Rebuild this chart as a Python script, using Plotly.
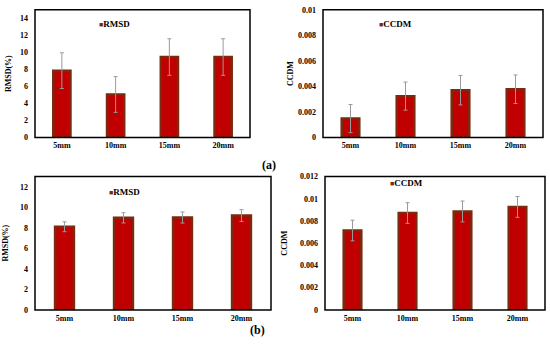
import plotly.graph_objects as go

categories = ["5mm", "10mm", "15mm", "20mm"]

# (a) panel
rmsd_a = [7.85, 5.05, 9.45, 9.45]
rmsd_a_err = [2.1, 2.1, 2.15, 2.15]
ccdm_a = [0.00148, 0.00324, 0.00370, 0.00378]
ccdm_a_err = [0.0011, 0.0011, 0.00115, 0.00112]

# (b) panel
rmsd_b = [8.1, 8.97, 9.0, 9.19]
rmsd_b_err = [0.48, 0.5, 0.54, 0.57]
ccdm_b = [0.00714, 0.00871, 0.00885, 0.00926]
ccdm_b_err = [0.00093, 0.00093, 0.00094, 0.00094]

FONT = "Liberation Serif"
BAR_FILL = "#C00000"
BAR_LINE = "#7A2A0E"
ERR_COLOR = "#9A9A9A"

W, H = 550, 350

def px_x(a, b):
    return [a / W, b / W]

def px_y(top, bottom):
    return [1 - bottom / H, 1 - top / H]

fig = go.Figure()

panels = [
    dict(name="RMSD", y=rmsd_a, err=rmsd_a_err, xd=px_x(35, 250), yd=px_y(6, 137),
         rng=[0, 15], tv=[0, 2, 4, 6, 8, 10, 12, 14], tt=None, title="RMSD(%)",
         leg=(97, 21), so=7),
    dict(name="CCDM", y=ccdm_a, err=ccdm_a_err, xd=px_x(323, 543), yd=px_y(6, 137),
         rng=[0, 0.01], tv=[0, 0.002, 0.004, 0.006, 0.008, 0.01],
         tt=["0", "0.002", "0.004", "0.006", "0.008", "0.01"], title="CCDM",
         leg=(377, 21), so=3),
    dict(name="RMSD", y=rmsd_b, err=rmsd_b_err, xd=px_x(35, 271), yd=px_y(177, 314),
         rng=[0, 13], tv=[0, 2, 4, 6, 8, 10, 12], tt=None, title="RMSD(%)",
         leg=(107, 193), so=10),
    dict(name="CCDM", y=ccdm_b, err=ccdm_b_err, xd=px_x(325, 545), yd=px_y(177, 314),
         rng=[0, 0.012], tv=[0, 0.002, 0.004, 0.006, 0.008, 0.01, 0.012],
         tt=["0", "0.002", "0.004", "0.006", "0.008", "0.01", "0.012"], title="CCDM",
         leg=(388, 184), so=11),
]

tickfont = dict(family=FONT, size=8, color="black", weight="bold")
layout = {}
shapes = []
annotations = []
for i, p in enumerate(panels):
    n = "" if i == 0 else str(i + 1)
    fig.add_trace(go.Bar(
        x=categories, y=p["y"], name=p["name"], showlegend=False,
        xaxis="x" + n, yaxis="y" + n,
        marker=dict(color=BAR_FILL, line=dict(color=BAR_LINE, width=2.5)),
        error_y=dict(type="data", array=p["err"], visible=True,
                     color=ERR_COLOR, thickness=1, width=2),
        width=0.32,
    ))
    layout["xaxis" + n] = dict(
        domain=p["xd"], anchor="y" + n, showline=False,
        ticks="", showgrid=False, tickfont=tickfont, ticklabelstandoff=2,
    )
    yax = dict(
        domain=p["yd"], anchor="x" + n, range=p["rng"], showline=False,
        ticks="", showgrid=False, zeroline=False,
        tickvals=p["tv"], tickfont=tickfont, ticklabelstandoff=6,
        title=dict(text="<b>" + p["title"] + "</b>",
                   font=dict(family=FONT, size=8, color="black"), standoff=p["so"]),
    )
    if p["tt"] is not None:
        yax["ticktext"] = p["tt"]
    layout["yaxis" + n] = yax
    shapes.append(dict(type="rect", xref="x" + n + " domain", yref="y" + n + " domain",
                       x0=0, x1=1, y0=0, y1=1, line=dict(color="black", width=1.5),
                       layer="above"))
    annotations.append(dict(
        text="<span style='color:%s;font-size:7px'>■</span><b>%s</b>" % (BAR_LINE, p["name"]),
        x=p["leg"][0] / W, y=1 - p["leg"][1] / H, xref="paper", yref="paper",
        xanchor="left", yanchor="middle", showarrow=False,
        font=dict(family=FONT, size=9, color="black")))

annotations += [
    dict(text="<b>(a)</b>", x=269 / W, y=1 - 165 / H, xref="paper", yref="paper",
         showarrow=False, font=dict(family=FONT, size=12, color="black")),
    dict(text="<b>(b)</b>", x=257 / W, y=1 - 344 / H, xref="paper", yref="paper",
         showarrow=False, font=dict(family=FONT, size=12, color="black")),
]

fig.update_layout(**layout)
fig.update_layout(
    width=W, height=H, margin=dict(l=0, r=0, t=0, b=0),
    paper_bgcolor="white", plot_bgcolor="white",
    font=dict(family=FONT, color="black"),
    showlegend=False, shapes=shapes, annotations=annotations,
)

fig.write_html("out.html", config={"displayModeBar": False},
               post_script="document.body.style.margin='0';")
